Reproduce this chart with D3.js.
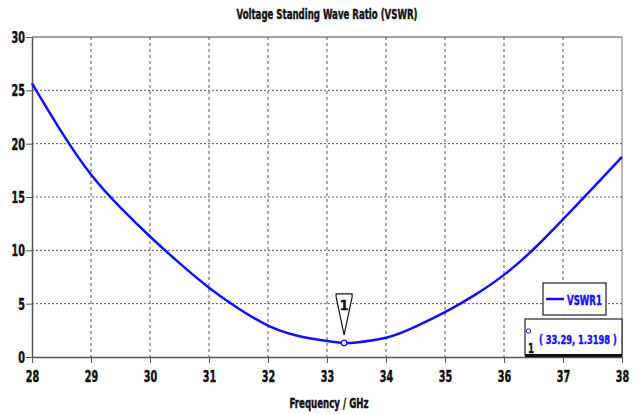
<!DOCTYPE html>
<html>
<head>
<meta charset="utf-8">
<script src="https://cdn.jsdelivr.net/npm/d3@7"></script>
<style>
  html, body { margin: 0; padding: 0; background: #fff; }
  svg { display: block; }
  text { font-family: "DejaVu Sans Condensed", "DejaVu Sans", sans-serif; font-weight: bold; font-stretch: condensed; stroke-width: 0.45; paint-order: stroke; }
</style>
</head>
<body>
<svg id="chart" width="642" height="414"></svg>
<script>
// Frequency sweep (GHz) and VSWR values
const frequencies = [28, 28.5, 29, 29.5, 30, 30.5, 31, 31.5, 32, 32.5, 33, 33.29, 33.5, 34, 34.5, 35, 35.5, 36, 36.5, 37, 37.5, 38];
const vswrValues  = [25.65, 21.1, 17.1, 14.0, 11.3, 8.8, 6.5, 4.55, 2.95, 2.0, 1.5, 1.3198, 1.37, 1.8, 2.85, 4.2, 5.8, 7.7, 10.1, 12.9, 15.8, 18.75];
const xTicks = [28, 29, 30, 31, 32, 33, 34, 35, 36, 37, 38];
const yTicks = [0, 5, 10, 15, 20, 25, 30];
const seriesName = "VSWR1";
const markerFreq = 33.29;
const markerValue = 1.3198;
const markerLabel = "1";

const svg = d3.select("#chart");
const margin = { left: 32, right: 20, top: 37, bottom: 57 };
const W = 642, H = 414;
const x = d3.scaleLinear().domain([28, 38]).range([margin.left, W - margin.right]);
const y = d3.scaleLinear().domain([0, 30]).range([H - margin.bottom, margin.top]);
const blue = "#1010ff";
const ink = "#111";
const gridColor = "#555";

// Squeeze a label into a narrow width, like a condensed face
function squeeze(sel, w) {
  sel.attr("textLength", w).attr("lengthAdjust", "spacingAndGlyphs");
}

// Title
svg.append("text")
  .attr("x", 327).attr("y", 19)
  .attr("text-anchor", "middle")
  .attr("font-size", 14)
  .attr("fill", ink).attr("stroke", ink)
  .text("Voltage Standing Wave Ratio (VSWR)")
  .call(squeeze, 181);

// Grid lines
svg.append("g").selectAll("line").data(xTicks.slice(1, -1)).join("line")
  .attr("x1", d => x(d)).attr("x2", d => x(d))
  .attr("y1", y(30)).attr("y2", y(0))
  .attr("stroke", gridColor).attr("stroke-width", 1)
  .attr("stroke-dasharray", "3,3");
svg.append("g").selectAll("line").data(yTicks.slice(1, -1)).join("line")
  .attr("x1", x(28)).attr("x2", x(38))
  .attr("y1", d => y(d)).attr("y2", d => y(d))
  .attr("stroke", gridColor).attr("stroke-width", 1)
  .attr("stroke-dasharray", "2,2");

// Plot frame
svg.append("line").attr("x1", x(28)).attr("x2", x(38)).attr("y1", y(30)).attr("y2", y(30))
  .attr("stroke", "#444").attr("stroke-width", 1);
svg.append("line").attr("x1", x(38)).attr("x2", x(38)).attr("y1", y(30)).attr("y2", y(0))
  .attr("stroke", "#777").attr("stroke-width", 1);

// Axes
const xAxis = d3.axisBottom(x).tickValues(xTicks).tickFormat(d3.format("d")).tickSizeInner(6).tickSizeOuter(0).tickPadding(8);
const yAxis = d3.axisLeft(y).tickValues(yTicks).tickFormat(d3.format("d")).tickSizeInner(6).tickSizeOuter(0).tickPadding(1);

const gx = svg.append("g").attr("transform", `translate(0,${y(0)})`).call(xAxis);
const gy = svg.append("g").attr("transform", `translate(${x(28)},0)`).call(yAxis);
[gx, gy].forEach(g => {
  g.select(".domain").attr("stroke", "#555").attr("stroke-width", 1.5);
  g.selectAll(".tick line").attr("stroke", "#555");
  g.selectAll(".tick text").attr("font-size", 15).attr("fill", ink).attr("stroke", ink)
    .attr("font-family", "\"DejaVu Sans Condensed\", \"DejaVu Sans\", sans-serif")
    .attr("font-weight", "bold")
    .each(function (d) { squeeze(d3.select(this), String(d).length * 6.7); });
});
gy.selectAll(".tick text").attr("dy", "0.36em");

// X axis title
svg.append("text")
  .attr("x", 329).attr("y", 408)
  .attr("text-anchor", "middle")
  .attr("font-size", 14)
  .attr("fill", ink).attr("stroke", ink)
  .text("Frequency / GHz")
  .call(squeeze, 79);

// VSWR curve
const data = frequencies.map((f, i) => ({ f, v: vswrValues[i] }));
const line = d3.line().x(d => x(d.f)).y(d => y(d.v)).curve(d3.curveNatural);
svg.append("path").datum(data)
  .attr("d", line)
  .attr("fill", "none")
  .attr("stroke", blue)
  .attr("stroke-width", 2.5);

// Marker point and flag
const mx = x(markerFreq), my = y(markerValue);
const flag = svg.append("g");
flag.append("path")
  .attr("d", `M${mx - 8},${my - 49} L${mx + 8},${my - 49} L${mx + 8},${my - 46} L${mx},${my - 8} L${mx - 8},${my - 46} Z`)
  .attr("fill", "#fff").attr("stroke", ink).attr("stroke-width", 1.2);
flag.append("text")
  .attr("x", mx).attr("y", my - 33)
  .attr("text-anchor", "middle")
  .attr("font-size", 14).attr("fill", ink).attr("stroke", ink)
  .text(markerLabel);
svg.append("circle")
  .attr("cx", mx).attr("cy", my).attr("r", 2.8)
  .attr("fill", "#fff").attr("stroke", blue).attr("stroke-width", 1.3);

// Legend
const legend = svg.append("g");
legend.append("rect")
  .attr("x", 543).attr("y", 283).attr("width", 63).attr("height", 32)
  .attr("fill", "#fff").attr("stroke", "#222").attr("stroke-width", 1.2);
legend.append("line")
  .attr("x1", 546).attr("x2", 564).attr("y1", 299).attr("y2", 299)
  .attr("stroke", blue).attr("stroke-width", 2.5);
legend.append("text")
  .attr("x", 567).attr("y", 305)
  .attr("font-size", 14).attr("fill", blue).attr("stroke", blue)
  .text(seriesName)
  .call(squeeze, 35);

// Marker readout
const readout = svg.append("g");
readout.append("rect")
  .attr("x", 525).attr("y", 319).attr("width", 97).attr("height", 36)
  .attr("fill", "#fff").attr("stroke", "#222").attr("stroke-width", 1.2);
readout.append("line")
  .attr("x1", 525).attr("x2", 622).attr("y1", 355.5).attr("y2", 355.5)
  .attr("stroke", ink).attr("stroke-width", 3);
readout.append("circle")
  .attr("cx", 528.5).attr("cy", 331).attr("r", 2.2)
  .attr("fill", "#fff").attr("stroke", blue).attr("stroke-width", 1);
readout.append("text")
  .attr("x", 528).attr("y", 353)
  .attr("font-size", 14).attr("fill", ink).attr("stroke", ink)
  .text(markerLabel)
  .call(squeeze, 6);
// Coordinates text: drawn at natural size, then narrowed horizontally to fit the box
const coordText = readout.append("text")
  .attr("x", 0).attr("y", 0)
  .attr("font-size", 13).attr("fill", blue).attr("stroke", blue)
  .text(`( ${markerFreq}, ${markerValue} )`);
const naturalWidth = coordText.node().getComputedTextLength();
coordText.attr("transform", `translate(539,344) scale(${78 / naturalWidth},1)`);
</script>
</body>
</html>
